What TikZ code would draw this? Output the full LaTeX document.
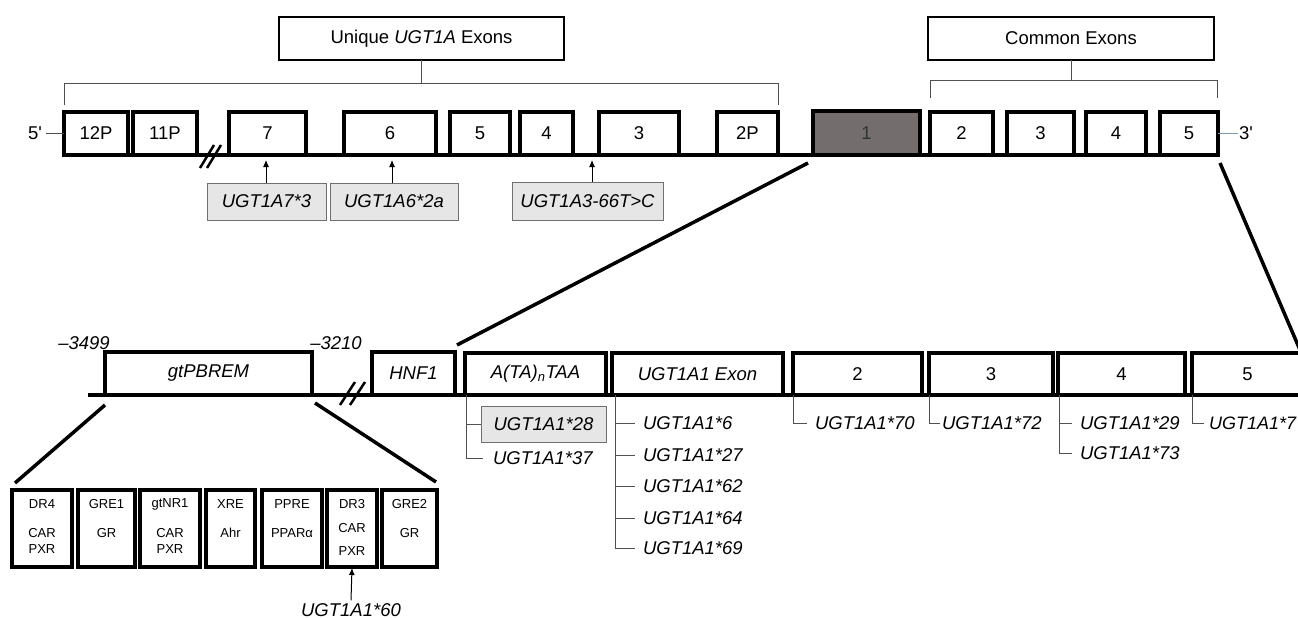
\documentclass[tikz,border=0pt]{standalone}
\usepackage{fontspec}
\setmainfont{Liberation Sans}
\usetikzlibrary{arrows.meta}
\definecolor{lblfill}{HTML}{E6E6E6}
\definecolor{lbldraw}{HTML}{707070}
\definecolor{exonone}{HTML}{736D6D}
\definecolor{thinc}{HTML}{505050}
\definecolor{threec}{HTML}{7F9CAA}
\newcommand{\mybox}[7]{\node[#1, minimum width={(#5)-(#3)}, minimum height={(#6)-(#4)}] (#2) at ({((#3)+(#5))/2},{((#4)+(#6))/2}) {#7};}
\begin{document}
\begin{tikzpicture}[x=1pt,y=-1pt,
  big/.style={font=\fontsize{18.5}{21}\selectfont},
  small/.style={font=\fontsize{13}{15}\selectfont},
  exon/.style={draw, line width=3.5pt, fill=white, inner sep=0pt, outer sep=0pt, big},
  hdr/.style={draw, line width=2.5pt, fill=white, inner sep=0pt, outer sep=0pt, big},
  lbl/.style={draw=lbldraw, line width=1pt, fill=lblfill, inner sep=0pt, outer sep=0pt, font=\fontsize{18.5}{21}\selectfont\itshape},
  var/.style={anchor=west, inner sep=0pt, inner xsep=8pt, outer sep=0pt, font=\fontsize{18.5}{21}\selectfont\itshape},
  txt/.style={inner sep=0pt, outer sep=0pt, small},
  gene/.style={line width=4pt},
  zoomln/.style={line width=3.5pt},
  brk/.style={line width=2.5pt},
  thinln/.style={line width=1pt, draw=thinc},
  arr/.style={line width=1pt, -{Latex[length=7pt,width=6pt]}}
]
\useasboundingbox (0,0) rectangle (1298,618);
\fill[white] (0,0) rectangle (1298,618);
\clip (0,0) rectangle (1298,618);

% ---------- top gene ----------
\coordinate (g0) at (64,155);
\coordinate (g1) at (1218,155);
\draw[gene] (g0) -- (g1);

\mybox{exon}{e12}{64}{112}{128}{155}{12P}
\mybox{exon}{e11}{133}{112}{197}{155}{11P}
\mybox{exon}{e7}{229}{112}{306}{155}{7}
\mybox{exon}{e6}{344}{112}{436}{155}{6}
\mybox{exon}{e5}{450}{112}{510}{155}{5}
\mybox{exon}{e4}{520}{112}{573}{155}{4}
\mybox{exon}{e3}{599}{112}{679}{155}{3}
\mybox{exon}{e2p}{717}{112}{778}{155}{2P}
\mybox{exon, fill=exonone, text=black!80}{e1}{813}{111}{920}{155}{1}
\mybox{exon}{c2}{930}{112}{993}{155}{2}
\mybox{exon}{c3}{1007}{112}{1074}{155}{3}
\mybox{exon}{c4}{1086}{112}{1146}{155}{4}
\mybox{exon}{c5}{1160}{112}{1218}{155}{5}

% break marks top
\draw[brk] (200,168) -- (214,145);
\draw[brk] (207,168) -- (221,145);

% 5' and 3'
\node[big, inner sep=0pt] (five) at (35,133) {5\textquotesingle};
\draw[thinln] (five.east) ++(4,0) coordinate (fa) -- (fa -| e12.west);
\node[big, inner sep=0pt] (three) at (1246,133) {3\textquotesingle};
\draw[line width=1pt, draw=threec] (c5.east |- three.west) -- ([xshift=-1pt]three.west);

% headers
\mybox{hdr}{uniq}{279}{17}{564}{60}{Unique \textit{UGT1A} Exons}
\mybox{hdr}{comm}{928}{17}{1214}{60}{Common Exons}
\coordinate (ubl) at (64,105);
\coordinate (ubr) at (778,105);
\draw[thinln] (ubl) -- (64,83) -- (778,83) -- (ubr);
\draw[thinln] (uniq.south) -- (uniq.south |- 0,83);
\coordinate (cbl) at (930,98);
\coordinate (cbr) at (1217,98);
\draw[thinln] (cbl) -- (930,80) -- (1217,80) -- (cbr);
\draw[thinln] (comm.south) -- (comm.south |- 0,80);

% variant labels top
\mybox{lbl}{l7}{207}{183}{326}{220}{UGT1A7*3}
\mybox{lbl}{l6}{330}{183}{458}{220}{UGT1A6*2a}
\mybox{lbl}{l3}{512}{182}{663}{220}{UGT1A3-66T>C}
\coordinate (t7) at (266,160);
\coordinate (t6) at (392,160);
\coordinate (t3) at (592,160);
\draw[arr] (t7 |- l7.north) -- (t7);
\draw[arr] (t6 |- l6.north) -- (t6);
\draw[arr] (t3 |- l3.north) -- (t3);

% zoom lines
\coordinate (za) at (808,163);
\coordinate (zb) at (457,345);
\coordinate (zc) at (1220,163);
\coordinate (zd) at (1300,350);
\draw[zoomln] (za) -- (zb);
\draw[zoomln] (zc) -- (zd);

% ---------- bottom gene ----------
\coordinate (h0) at (88,395);
\coordinate (h1) at (1310,395);
\draw[gene] (h0) -- (h1);

\mybox{exon, font=\fontsize{18.5}{21}\selectfont\itshape}{pb}{105}{352}{312}{395}{gtPBREM}
\mybox{exon, font=\fontsize{18.5}{21}\selectfont\itshape}{hnf}{372}{352}{455}{395}{HNF1}
\mybox{exon, font=\fontsize{18.5}{21}\selectfont\itshape}{ata}{465}{353}{606}{395}{A(TA)\textsubscript{n}TAA}
\mybox{exon, font=\fontsize{18.5}{21}\selectfont\itshape}{uex}{612}{353}{783}{395}{UGT1A1 Exon}
\mybox{exon}{b2}{793}{353}{922}{395}{2}
\mybox{exon}{b3}{929}{353}{1053}{395}{3}
\mybox{exon}{b4}{1058}{353}{1185}{395}{4}
\mybox{exon}{b5}{1192}{353}{1303}{395}{5}

\node[font=\fontsize{18.5}{21}\selectfont\itshape, inner sep=0pt] (m3499) at (84,343) {–3499};
\node[font=\fontsize{18.5}{21}\selectfont\itshape, inner sep=0pt] (m3210) at (336,343) {–3210};

% break marks bottom
\draw[brk] (340,405) -- (355,382);
\draw[brk] (350,405) -- (365,382);

% variants bottom
\mybox{lbl}{v28}{481}{406}{606}{442}{UGT1A1*28}
\node[var, inner xsep=10pt] (v37) at (483,458) {UGT1A1*37};
\draw[thinln] (ata.south west) ++(1.5,0) coordinate (av) |- (v28.west);
\draw[thinln] (av) |- (v37.west);

\node[var] (v6) at (635,423) {UGT1A1*6};
\node[var] (v27) at (635,455) {UGT1A1*27};
\node[var] (v62) at (635,486) {UGT1A1*62};
\node[var] (v64) at (635,518) {UGT1A1*64};
\node[var] (v69) at (635,548) {UGT1A1*69};
\draw[thinln] (uex.south west) ++(3,0) coordinate (uv) |- (v69.west);
\foreach \v in {v6,v27,v62,v64} \draw[thinln] (uv |- \v.west) -- (\v.west);

\node[var] (v70) at (807,423) {UGT1A1*70};
\draw[thinln] (b2.south west) |- (v70.west);
\node[var, inner xsep=2pt] (v72) at (940,423) {UGT1A1*72};
\draw[thinln] (b3.south west) |- (v72.west);
\node[var] (v29) at (1072,423) {UGT1A1*29};
\node[var] (v73) at (1072,453) {UGT1A1*73};
\draw[thinln] (b4.south west) ++(1,0) coordinate (fv) |- (v73.west);
\draw[thinln] (fv |- v29.west) -- (v29.west);
\node[var, inner xsep=5pt, font=\fontsize{18}{21}\selectfont\itshape] (v7x) at (1204,423) {UGT1A1*7};
\draw[thinln] (b5.south west) |- (v7x.west);

% gtPBREM zoom lines
\coordinate (pa) at (105,405);
\coordinate (pb2) at (15,483);
\coordinate (pc) at (315,403);
\coordinate (pd) at (436,482);
\draw[zoomln] (pa) -- (pb2);
\draw[zoomln] (pc) -- (pd);

% small element boxes
\mybox{exon}{dr4}{12}{490}{72}{567}{}
\mybox{exon}{gre1}{78}{490}{135}{567}{}
\mybox{exon}{gtnr}{140}{490}{200}{567}{}
\mybox{exon}{xre}{206}{490}{255}{567}{}
\mybox{exon}{ppre}{262}{490}{322}{567}{}
\mybox{exon}{dr3}{327}{490}{377}{567}{}
\mybox{exon}{gre2}{382}{490}{437}{567}{}

\node[txt] (dr4a) at (dr4.center |- 0,504) {DR4};
\node[txt] (dr4b) at (dr4.center |- 0,533) {CAR};
\node[txt] (dr4c) at (dr4.center |- 0,549) {PXR};
\node[txt] (gre1a) at (gre1.center |- 0,504) {GRE1};
\node[txt] (gre1b) at (gre1.center |- 0,533) {GR};
\node[txt] (gtnra) at (gtnr.center |- 0,504) {gtNR1};
\node[txt] (gtnrb) at (gtnr.center |- 0,533) {CAR};
\node[txt] (gtnrc) at (gtnr.center |- 0,549) {PXR};
\node[txt] (xrea) at (xre.center |- 0,504) {XRE};
\node[txt] (xreb) at (xre.center |- 0,533) {Ahr};
\node[txt] (pprea) at (ppre.center |- 0,504) {PPRE};
\node[txt] (ppreb) at (ppre.center |- 0,533) {PPARα};
\node[txt] (dr3a) at (dr3.center |- 0,504) {DR3};
\node[txt] (dr3b) at (dr3.center |- 0,528) {CAR};
\node[txt] (dr3c) at (dr3.center |- 0,551) {PXR};
\node[txt] (gre2a) at (gre2.center |- 0,504) {GRE2};
\node[txt] (gre2b) at (gre2.center |- 0,533) {GR};

\node[font=\fontsize{18.5}{21}\selectfont\itshape, inner sep=0pt] (v60) at (351,610) {UGT1A1*60};
\draw[arr] ([yshift=3pt]v60.north) -- ([yshift=-1pt]dr3.south);
\end{tikzpicture}
\end{document}
